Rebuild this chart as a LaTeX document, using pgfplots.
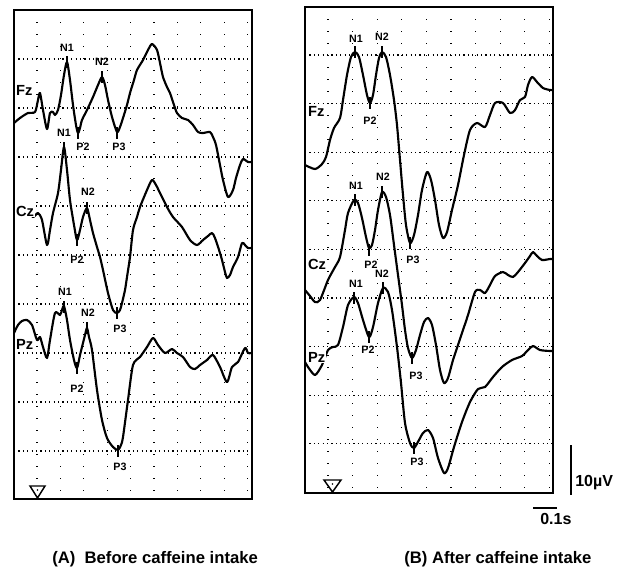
\documentclass[border=0pt]{standalone}
\usepackage{pgfplots}
\pgfplotsset{compat=1.18}
\usepackage{fontspec}
\setmainfont{Liberation Sans}

\newcommand{\pkfont}{\fontsize{8}{9}\selectfont\bfseries}
\newcommand{\chfont}{\fontsize{11}{13}\selectfont\bfseries}
\newcommand{\capfont}{\fontsize{12.5}{15}\selectfont\bfseries}
\newcommand{\barfont}{\fontsize{12}{14}\selectfont\bfseries}

\pgfplotsset{
  erp/.style={scale only axis, y dir=reverse, clip=false,
    axis line style={line width=1pt},
    grid=major, major tick length=0pt,
    xticklabels={}, yticklabels={},
    major x grid style={black, line width=1pt, dash pattern=on 1pt off 8pt},
    major y grid style={black, line width=0.9pt, dash pattern=on 0.9pt off 2.4pt}},
  trace/.style={black, line width=1.6pt, line join=round, smooth, tension=0.45},
  pk/.style={black, only marks, mark=|, mark size=4.5pt, mark options={line width=1pt}},
}
\tikzset{
  lab/.style={font=\pkfont, inner sep=0pt},
  ch/.style={font=\chfont, anchor=base west, fill=white, inner sep=0.6pt},
}

\begin{document}
\begin{tikzpicture}[x=0.75pt,y=-0.75pt]
\path[use as bounding box] (0,0) rectangle (623,567);

% (A) before caffeine
\begin{axis}[erp, at={(99.75pt,-190.875pt)}, anchor=center,
  width=178.5pt, height=366.75pt,
  xmin=14, xmax=252, ymin=10, ymax=499,
  xtick={37,60.4,83.8,107.2,130.6,154,177.4,200.8,224.2,247.6},
  ytick={59,108,157,206,255,304,353,402,451}]
% Fz
\addplot[trace] coordinates {(14,123) (20,118) (28,113) (35,112) (38,100) (40,93) (43,110) (47,129) (50,113) (53,112) (55,115) (58,110) (61,95) (64,75) (67,62) (70,80) (73,105) (76,125) (78,133) (80,128) (82,120) (87,110) (93,97) (98,85) (102,77) (105,85) (108,100) (112,117) (117,132) (120,127) (123,118) (127,105) (130,93) (134,80) (137,70) (143,60) (148,50) (152,44) (157,50) (160,63) (163,77) (167,87) (170,93) (174,105) (177,113) (182,118) (188,120) (193,125) (198,132) (203,133) (210,132) (213,137) (216,145) (220,165) (223,180) (228,197) (233,190) (236,178) (240,165) (243,159) (248,162) (251,162)};
% Cz
\addplot[trace] coordinates {(14,210) (20,208) (28,210) (33,217) (38,213) (42,220) (47,245) (50,230) (53,213) (58,193) (61,170) (64,147) (67,170) (70,200) (74,225) (77,240) (80,230) (83,217) (87,208) (90,220) (93,233) (97,247) (100,257) (103,270) (108,293) (113,310) (117,313) (120,310) (122,303) (125,290) (127,277) (130,257) (133,230) (137,217) (140,207) (147,190) (152,180) (156,185) (160,193) (167,207) (173,217) (182,227) (190,240) (197,245) (203,240) (208,236) (212,233) (215,238) (220,253) (222,260) (225,272) (227,278) (230,275) (233,267) (238,257) (242,243) (245,245) (248,248) (251,248)};
% Pz
\addplot[trace] coordinates {(14,333) (18,325) (22,321) (27,320) (32,325) (37,340) (40,337) (43,347) (47,358) (50,340) (55,313) (60,315) (62,310) (64,306) (67,320) (70,340) (74,360) (77,368) (80,355) (82,347) (85,335) (87,328) (89,337) (92,350) (97,390) (102,420) (107,438) (113,447) (118,450) (121,445) (123,437) (128,400) (133,365) (140,357) (147,347) (153,338) (158,345) (165,353) (172,349) (177,353) (183,357) (190,367) (195,369) (200,365) (207,360) (213,355) (220,367) (227,382) (232,367) (238,362) (245,348) (248,353) (251,353)};
% peak markers
\addplot[pk] coordinates {(67,62) (102,77) (78,133) (117,133) (64,148) (87,208) (77,240) (117,313) (64,307) (87,328) (77,368) (118,451)};
\node[lab] at (axis cs:67,48) {N1};
\node[lab] at (axis cs:102,62) {N2};
\node[lab] at (axis cs:83,147) {P2};
\node[lab] at (axis cs:119,147) {P3};
\node[lab] at (axis cs:64,133) {N1};
\node[lab] at (axis cs:88,192) {N2};
\node[lab] at (axis cs:77,260) {P2};
\node[lab] at (axis cs:120,329) {P3};
\node[lab] at (axis cs:65,292) {N1};
\node[lab] at (axis cs:88,313) {N2};
\node[lab] at (axis cs:77,389) {P2};
\node[lab] at (axis cs:120,467) {P3};
\end{axis}

% (B) after caffeine
\begin{axis}[erp, at={(321.75pt,-187.5pt)}, anchor=center,
  width=186pt, height=364.5pt,
  xmin=305, xmax=553, ymin=7, ymax=493,
  xtick={328,352.6,377.2,401.8,426.4,451,475.6,500.2,524.8,549.4},
  ytick={55,103.6,152.2,200.8,249.4,298,346.6,395.2,443.8}]
% Fz
\addplot[trace] coordinates {(305,165) (315,169) (322,164) (326,157) (330,140) (334,128) (340,118) (343,100) (347,75) (351,57) (355,52) (359,57) (363,75) (367,95) (370,103) (373,95) (376,75) (379,58) (382,52) (386,57) (390,75) (394,100) (397,125) (400,160) (403,195) (406,225) (410,243) (414,235) (418,215) (422,190) (427,172) (431,180) (435,200) (439,225) (443,238) (447,232) (452,210) (458,185) (464,155) (470,130) (477,123) (485,127) (490,115) (495,103) (503,103) (510,113) (515,110) (520,100) (525,97) (528,85) (532,77) (537,82) (543,88) (550,90) (553,90)};
% Cz
\addplot[trace] coordinates {(305,290) (310,296) (315,302) (320,300) (328,280) (335,267) (340,257) (345,230) (348,213) (354,200) (358,203) (362,218) (366,237) (369,248) (372,245) (375,230) (378,210) (382,192) (386,197) (390,215) (394,245) (398,275) (402,305) (405,330) (408,348) (412,358) (416,350) (420,335) (424,322) (428,318) (432,325) (436,345) (440,370) (444,383) (448,378) (453,360) (458,345) (462,333) (468,315) (475,292) (480,290) (485,293) (490,285) (495,276) (503,272) (508,275) (513,277) (518,272) (525,263) (530,256) (533,252) (537,256) (542,260) (550,259) (553,259)};
% Pz
\addplot[trace] coordinates {(305,362) (308,367) (315,375) (322,365) (328,350) (333,347) (338,345) (343,327) (348,305) (354,297) (358,303) (363,320) (369,337) (373,327) (378,303) (383,288) (388,292) (392,310) (397,347) (401,383) (405,423) (410,443) (414,448) (419,440) (423,433) (428,430) (433,438) (438,458) (444,473) (448,468) (454,447) (462,422) (470,402) (478,389) (485,387) (493,377) (502,367) (512,360) (522,356) (528,350) (533,346) (540,350) (550,351) (553,351)};
% peak markers
\addplot[pk] coordinates {(355,52) (382,52) (370,103) (410,243) (355,200) (382,192) (369,250) (412,358) (354,298) (383,288) (369,337) (414,448)};
\node[lab] at (axis cs:356,39) {N1};
\node[lab] at (axis cs:382,37) {N2};
\node[lab] at (axis cs:370,121) {P2};
\node[lab] at (axis cs:413,260) {P3};
\node[lab] at (axis cs:356,186) {N1};
\node[lab] at (axis cs:383,177) {N2};
\node[lab] at (axis cs:371,265) {P2};
\node[lab] at (axis cs:416,376) {P3};
\node[lab] at (axis cs:356,284) {N1};
\node[lab] at (axis cs:382,274) {N2};
\node[lab] at (axis cs:368,350) {P2};
\node[lab] at (axis cs:417,462) {P3};
\end{axis}

% channel names
\node[ch] at (15,95) {Fz};
\node[ch] at (15,216) {Cz};
\node[ch] at (15,349) {Pz};
\node[ch] at (307,116) {Fz};
\node[ch] at (307,269) {Cz};
\node[ch] at (307,362) {Pz};

% stimulus onset triangles
\draw[line width=1.1pt, fill=white, line join=miter] (30,486) -- (45,486) -- (37.5,498) -- cycle;
\fill (37.5,490) circle (0.9);
\draw[line width=1.1pt, fill=white, line join=miter] (324,480) -- (341,480) -- (332.5,492) -- cycle;
\fill (332.5,484) circle (0.9);

% calibration bars
\draw[line width=1.5pt] (571,445) -- (571,495);
\node[anchor=base west, font=\barfont, inner sep=0pt] at (575,486) {10µV};
\draw[line width=1.4pt] (533,508) -- (557,508);
\node[anchor=base west, font=\barfont, inner sep=0pt] at (540,524) {0.1s};

% captions
\node[anchor=base west, font=\capfont, inner sep=0pt] at (52,563) {(A)~~Before caffeine intake};
\node[anchor=base west, font=\capfont, inner sep=0pt] at (404,563) {(B) After caffeine intake};
\end{tikzpicture}
\end{document}
